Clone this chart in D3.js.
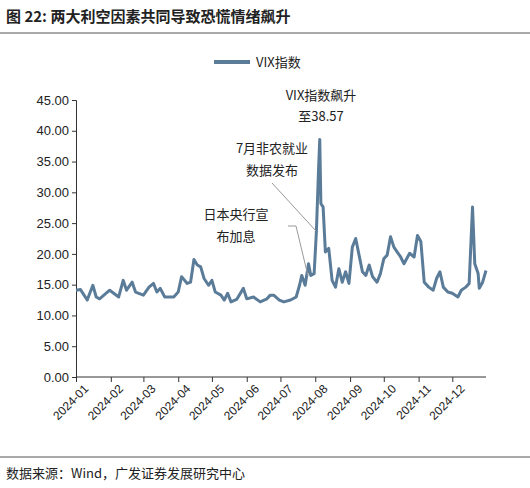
<!DOCTYPE html>
<html><head><meta charset="utf-8">
<script src="https://cdn.jsdelivr.net/npm/d3@7"></script>
<style>body{margin:0;background:#fff;font-family:"Noto Sans CJK SC","Liberation Sans",sans-serif}</style>
</head><body><svg id="c" width="530" height="488"></svg>
<script>
// VIX, day offset from 2024-01-01 and value
const dayOffsets = [0,4,10,15,18,21,30,38,42,45,50,53,60,65,69,72,75,79,87,91,94,99,102,105,108,111,114,118,121,124,129,132,135,138,143,149,152,158,164,170,173,176,181,185,191,196,199,201,204,207,209,212,214,216,217,218,220,222,225,228,231,234,237,240,243,246,249,252,255,258,261,264,268,271,274,277,280,283,286,289,292,297,301,304,307,310,314,318,321,324,327,331,335,340,343,347,350,353,355,358,359,362,365];
const vixValues = [14.1,14.2,12.5,14.9,13,12.7,14.1,13,15.7,14.1,15.4,13.8,13.3,14.6,15.2,13.8,14.4,13,13,13.8,16.3,15.2,15.4,19.1,18.2,17.9,16,14.9,15.7,13.8,13.3,12.5,13.6,12.2,12.6,14.4,12.7,13,12.2,12.7,13.3,13.3,12.5,12.2,12.5,13,14.9,16.5,14.9,18.4,16.5,16.8,23.6,34.1,38.57,28.2,27.6,20.3,20.9,15.7,14.6,17.6,15.4,17.1,15.2,21.1,22.5,19.8,17.1,16.5,18.2,16.3,15.4,16.8,19.2,19.8,22.8,21.1,20.3,19.5,18.4,20.1,19.5,23,22,15.4,14.6,14.1,16,17.1,14.6,13.8,13.6,13,14.1,14.6,15.2,27.6,18.4,16.8,14.4,15.4,17.3];
const yTicks = [0,5,10,15,20,25,30,35,40,45];
const monthLabels = ["2024-01","2024-02","2024-03","2024-04","2024-05","2024-06","2024-07","2024-08","2024-09","2024-10","2024-11","2024-12"];

const start = new Date(2024,0,1);
const data = dayOffsets.map((d,i)=>({date:d3.timeDay.offset(start,d), v:vixValues[i]}));
const svg = d3.select("#c");
const color = "#5b7c99";

svg.append("text").attr("x",6).attr("y",22).attr("font-size",15).attr("font-weight","bold").attr("fill","#222")
  .text("图 22:  两大利空因素共同导致恐慌情绪飙升");
svg.append("line").attr("x1",0).attr("x2",530).attr("y1",33).attr("y2",33).attr("stroke","#555").attr("stroke-width",1);
svg.append("line").attr("x1",0).attr("x2",530).attr("y1",457).attr("y2",457).attr("stroke","#555").attr("stroke-width",1);
svg.append("text").attr("x",6).attr("y",478).attr("font-size",13).attr("fill","#222").text("数据来源：Wind，广发证券发展研究中心");

// legend
svg.append("line").attr("x1",214).attr("x2",250).attr("y1",62).attr("y2",62).attr("stroke",color).attr("stroke-width",4);
svg.append("text").attr("x",256).attr("y",67).attr("font-size",13).attr("fill","#222").text("VIX指数");

const x = d3.scaleTime().domain([start,new Date(2024,11,31)]).range([76,486]);
const y = d3.scaleLinear().domain([0,45]).range([377,100]);

const yAxis = svg.append("g").attr("transform","translate(76,0)")
  .call(d3.axisLeft(y).tickValues(yTicks).tickFormat(d3.format(".2f")).tickSize(4));
yAxis.selectAll("text").attr("font-size",13).attr("fill","#222").attr("font-family","Liberation Sans, sans-serif");
yAxis.selectAll("line,path").attr("stroke","#333");

const months = d3.range(12).map(m=>new Date(2024,m,1));
const xAxis = svg.append("g").attr("transform","translate(0,377)")
  .call(d3.axisBottom(x).tickValues(months).tickFormat((d,i)=>monthLabels[i]).tickSize(5).tickSizeOuter(0));
xAxis.select(".domain").attr("d","M76,0H486");
xAxis.selectAll("line,path").attr("stroke","#333");
xAxis.selectAll("text").attr("font-size",12).attr("fill","#222").attr("font-family","Liberation Sans, sans-serif")
  .attr("text-anchor","end").attr("transform","translate(4,4) rotate(-45)").attr("dy","0.35em").attr("dx","0");

svg.append("path").datum(data).attr("fill","none").attr("stroke",color).attr("stroke-width",3).attr("stroke-linejoin","round")
  .attr("d",d3.line().x(d=>x(d.date)).y(d=>y(d.v)));

// annotations
const txt = (s,tx,ty)=>svg.append("text").attr("x",tx).attr("y",ty).attr("text-anchor","middle").attr("font-size",13).attr("fill","#222").text(s);
txt("VIX指数飙升",321,100); txt("至38.57",321,121);
txt("7月非农就业",272,153); txt("数据发布",272,175);
txt("日本央行宣",236,219); txt("布加息",236,241);
svg.append("line").attr("x1",272).attr("y1",183).attr("x2",316).attr("y2",231).attr("stroke","#999");
svg.append("polyline").attr("points","288,226 296,226 308,276").attr("fill","none").attr("stroke","#999");
</script></body></html>
